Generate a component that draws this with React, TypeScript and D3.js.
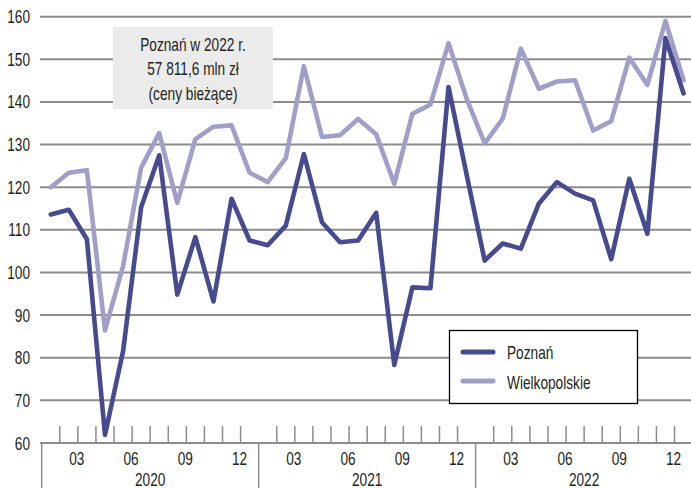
import React from 'react';
import * as d3 from 'd3';

// monthly index values, Jan 2020 .. Dec 2022
const years = ['2020', '2021', '2022'];
const monthLabels = ['03', '06', '09', '12'];
const yTicks = [60, 70, 80, 90, 100, 110, 120, 130, 140, 150, 160];

const poznan = [
  113.6, 114.7, 107.8, 61.9, 81.5, 115.3, 127.5, 94.8, 108.3, 93.2, 117.3, 107.5,
  106.4, 111, 127.8, 111.8, 107.1, 107.5, 114, 78.3, 96.5, 96.3, 143.5, 123,
  102.8, 106.8, 105.6, 116.2, 121.2, 118.5, 116.9, 103.1, 122, 109.1, 155, 142,
];
const wielkopolskie = [
  120, 123.4, 124, 86.4, 101.5, 124.6, 132.7, 116.3, 131.3, 134.2, 134.5, 123.4,
  121.2, 126.8, 148.4, 131.8, 132.2, 136, 132.4, 120.8, 137.2, 139.4, 153.8, 140.8,
  130.3, 136.1, 152.5, 143.1, 144.8, 145.1, 133.3, 135.5, 150.4, 144, 159, 145.1,
];
const infoLines = ['Poznań w 2022 r.', '57 811,6 mln zł', '(ceny bieżące)'];
const seriesNames = ['Poznań', 'Wielkopolskie'];

const W = 691;
const H = 488;
const font = "'Liberation Sans', Arial, sans-serif";
const darkColor = '#464a8f';
const lightColor = '#a09fca';
const gridColor = '#8c8c8c';
const textColor = '#231f20';

// condensed text: regular font squeezed horizontally
const T: React.FC<{ x: number; y: number; anchor?: string; children: React.ReactNode }> = ({ x, y, anchor = 'start', children }) => (
  <text transform={`translate(${x},${y}) scale(0.76,1)`} textAnchor={anchor} fontSize={18} fill={textColor}>
    {children}
  </text>
);

export default function App() {
  const x = d3.scaleLinear().domain([0, 36]).range([41.7, 692.6]);
  const y = d3.scaleLinear().domain([60, 160]).range([443, 16.7]);

  const line = d3.line<number>()
    .x((_, i) => x(i + 0.5))
    .y((d) => y(d));

  const ticks = d3.range(0, 36);

  return (
    <svg width={W} height={H} style={{ position: 'absolute', left: 0, top: 0 }} fontFamily={font}>
      <rect width={W} height={H} fill="#fff" />
      {/* horizontal grid */}
      {yTicks.map((t) => (
        <g key={t}>
          <line x1={40} x2={W} y1={y(t)} y2={y(t)} stroke={gridColor} strokeWidth={2} />
          <T x={30} y={y(t) + 6.5} anchor="end">{t}</T>
        </g>
      ))}

      {/* month ticks and year separators */}
      {ticks.map((k) => k % 12 === 0
        ? <line key={k} x1={x(k)} x2={x(k)} y1={443} y2={H} stroke={gridColor} strokeWidth={1.5} />
        : <line key={k} x1={x(k)} x2={x(k)} y1={426} y2={443} stroke={gridColor} strokeWidth={1.5} />)}

      {years.map((yr, yi) => (
        <g key={yr}>
          {monthLabels.map((m) => (
            <T key={m} x={x(yi * 12 + Number(m) - 1) - 1} y={464.5} anchor="middle">{m}</T>
          ))}
          <T x={x(yi * 12 + 6)} y={486} anchor="middle">{yr}</T>
        </g>
      ))}

      {/* info box */}
      <rect x={113} y={27} width={160} height={82} fill="#ebebeb" />
      {infoLines.map((t, i) => (
        <T key={t} x={193} y={50.5 + i * 24.5} anchor="middle">{t}</T>
      ))}

      {/* series */}
      <path d={line(wielkopolskie) || ''} fill="none" stroke={lightColor} strokeWidth={4.6} strokeLinejoin="round" strokeLinecap="round" />
      <path d={line(poznan) || ''} fill="none" stroke={darkColor} strokeWidth={4.6} strokeLinejoin="round" strokeLinecap="round" />

      {/* legend */}
      <rect x={449.5} y={330.5} width={188} height={73} fill="#fff" stroke="#000" strokeWidth={1.3} />
      {seriesNames.map((n, i) => (
        <g key={n}>
          <line x1={463} x2={493} y1={352 + i * 29} y2={352 + i * 29}
            stroke={i === 0 ? darkColor : lightColor} strokeWidth={5} strokeLinecap="round" />
          <T x={507} y={358.5 + i * 30.5}>{n}</T>
        </g>
      ))}
    </svg>
  );
}
